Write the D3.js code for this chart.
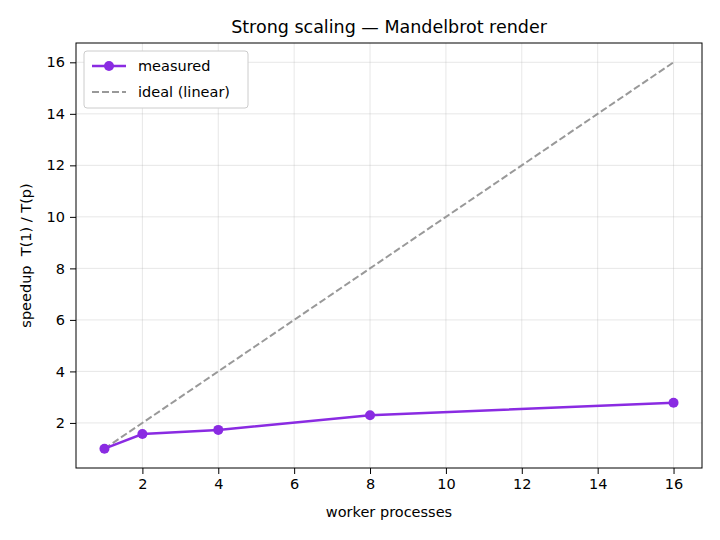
<!DOCTYPE html>
<html><head><meta charset="utf-8">
<script src="https://cdn.jsdelivr.net/npm/d3@7"></script>
<style>body{margin:0;background:#fff;font-family:"DejaVu Sans",sans-serif} text{white-space:pre}</style>
</head><body><svg id="c" width="720" height="540"></svg>
<script>
var workers = [1, 2, 4, 8, 16];
var measured = [1.0, 1.57, 1.73, 2.3, 2.78];
var ideal = [1, 16];
var xTicks = [2, 4, 6, 8, 10, 12, 14, 16];
var yTicks = [2, 4, 6, 8, 10, 12, 14, 16];

var svg = d3.select('#c');
var L = 76, R = 702, T = 43, B = 468;
var x = d3.scaleLinear().domain([0.25, 16.75]).range([L, R]);
var y = d3.scaleLinear().domain([0.25, 16.75]).range([B, T]);

// grid
svg.append('g').selectAll('line').data(xTicks).enter().append('line')
    .attr('x1', x).attr('x2', x).attr('y1', T).attr('y2', B)
    .attr('stroke', '#b0b0b0').attr('stroke-opacity', 0.3);
svg.append('g').selectAll('line').data(yTicks).enter().append('line')
    .attr('y1', y).attr('y2', y).attr('x1', L).attr('x2', R)
    .attr('stroke', '#b0b0b0').attr('stroke-opacity', 0.3);

var ax = svg.append('g').attr('transform', 'translate(0,' + B + ')')
    .call(d3.axisBottom(x).tickValues(xTicks).tickSizeOuter(0).tickPadding(5));
var ay = svg.append('g').attr('transform', 'translate(' + L + ',0)')
    .call(d3.axisLeft(y).tickValues(yTicks).tickSizeOuter(0).tickPadding(5));
[ax, ay].forEach(function (a) {
    a.selectAll('text').attr('font-size', 14.5).attr('font-family', 'DejaVu Sans').attr('fill', '#000');
    a.select('.domain').remove();
});
svg.append('rect').attr('x', L).attr('y', T).attr('width', R - L).attr('height', B - T)
    .attr('fill', 'none').attr('stroke', '#000');

var line = d3.line().x(function (d) { return x(d[0]); }).y(function (d) { return y(d[1]); });
svg.append('path').attr('d', line(ideal.map(function (v) { return [v, v]; })))
    .attr('stroke', '#999').attr('stroke-width', 2).attr('stroke-dasharray', '7,3').attr('fill', 'none');
var pts = workers.map(function (w, i) { return [w, measured[i]]; });
svg.append('path').attr('d', line(pts)).attr('stroke', '#8a2be2').attr('stroke-width', 2.5).attr('fill', 'none');
svg.append('g').selectAll('circle').data(pts).enter().append('circle')
    .attr('cx', function (d) { return x(d[0]); }).attr('cy', function (d) { return y(d[1]); })
    .attr('r', 5).attr('fill', '#8a2be2');

svg.append('text').attr('x', (L + R) / 2).attr('y', 33).attr('text-anchor', 'middle')
    .attr('font-size', 17.5).text('Strong scaling — Mandelbrot render');
svg.append('text').attr('x', (L + R) / 2).attr('y', 517).attr('text-anchor', 'middle')
    .attr('font-size', 14.5).text('worker processes');
svg.append('text').attr('transform', 'translate(31,' + (T + B) / 2 + ') rotate(-90)')
    .attr('text-anchor', 'middle').attr('font-size', 14.5).text('speedup  T(1) / T(p)');

// legend
var lg = svg.append('g').attr('transform', 'translate(84,51)');
lg.append('rect').attr('width', 164).attr('height', 57).attr('rx', 3)
    .attr('fill', '#fff').attr('stroke', '#ccc');
lg.append('line').attr('x1', 8).attr('x2', 42).attr('y1', 15).attr('y2', 15)
    .attr('stroke', '#8a2be2').attr('stroke-width', 2.5);
lg.append('circle').attr('cx', 25).attr('cy', 15).attr('r', 5).attr('fill', '#8a2be2');
lg.append('text').attr('x', 54).attr('y', 20).attr('font-size', 14.5).text('measured');
lg.append('line').attr('x1', 8).attr('x2', 42).attr('y1', 41).attr('y2', 41)
    .attr('stroke', '#999').attr('stroke-width', 2).attr('stroke-dasharray', '7,3');
lg.append('text').attr('x', 54).attr('y', 46).attr('font-size', 14.5).text('ideal (linear)');
</script></body></html>
